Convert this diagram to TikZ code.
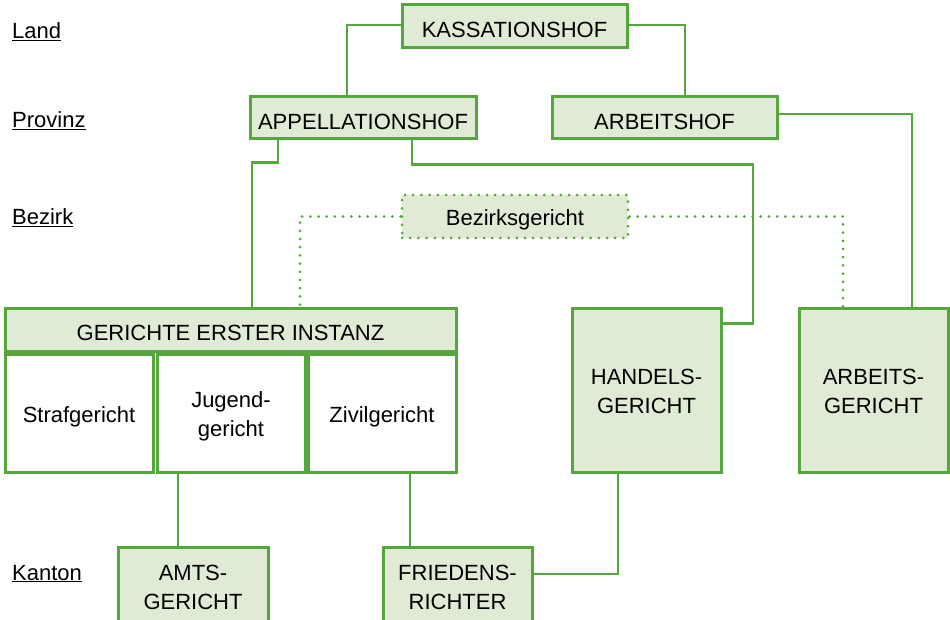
\documentclass[tikz,border=0pt]{standalone}
\usepackage{fontspec}
\setmainfont{Liberation Sans}
\definecolor{gstroke}{HTML}{54A73A}
\definecolor{gfill}{HTML}{E0EBD6}
\newcommand\dn[1]{\raisebox{-3.5pt}[\height][\depth]{#1}}
\newcommand\dnn[2]{\raisebox{-3.5pt}[\height][\depth]{\begin{tabular}{@{}c@{}}#1\\#2\end{tabular}}}
\begin{document}
\begin{tikzpicture}[x=1pt,y=-1pt,
  font=\fontsize{22}{29}\selectfont,
  box/.style={draw=gstroke, fill=gfill, line width=3pt, inner sep=0pt, align=center},
  wbox/.style={box, fill=white},
  dbox/.style={box, line width=3pt, dash pattern=on 0pt off 8.2pt, line cap=round},
  conn/.style={draw=gstroke, line width=2.2pt},
  dconn/.style={draw=gstroke, line width=3pt, dash pattern=on 0pt off 8.2pt, line cap=round},
  lvl/.style={anchor=base west, inner sep=0pt}]
\useasboundingbox (0,0) rectangle (950,620);
\begin{scope}
\clip (0,0) rectangle (950,620);
% level labels
\node[lvl] (land) at (12,39) {\underline{Land}};
\node[lvl] (prov) at (12,128) {\underline{Provinz}};
\node[lvl] (bezl) at (12,225) {\underline{Bezirk}};
\node[lvl] (kant) at (12,580) {\underline{Kanton}};
% boxes
\node[box, minimum width=225pt, minimum height=43pt] (kass) at (514.5,26.5) {\dn{KASSATIONSHOF}};
\node[box, minimum width=226pt, minimum height=42pt] (app) at (363,118) {\dn{APPELLATIONSHOF}};
\node[box, minimum width=225pt, minimum height=42pt] (arbhof) at (664.5,118) {\dn{ARBEITSHOF}};
\node[dbox, minimum width=226pt, minimum height=43pt] (bez) at (515,216.5) {\dn{Bezirksgericht}};
\node[box, minimum width=451pt, minimum height=43pt] (gei) at (230.5,329.5) {\dn{GERICHTE ERSTER INSTANZ}};
\node[wbox, minimum width=148pt, minimum height=118pt] (straf) at (79,413) {\dn{Strafgericht}};
\node[wbox, minimum width=148pt, minimum height=118pt] (jug) at (231,413) {\dnn{Jugend-}{gericht}};
\node[wbox, minimum width=148pt, minimum height=118pt] (ziv) at (382,413) {\dn{Zivilgericht}};
\node[box, minimum width=149pt, minimum height=164pt] (hand) at (646.5,390) {\dnn{HANDELS-}{GERICHT}};
\node[box, minimum width=149pt, minimum height=164pt] (arbg) at (873.5,390) {\dnn{ARBEITS-}{GERICHT}};
\node[box, minimum width=150pt, minimum height=78pt] (amts) at (193,586) {\dnn{AMTS-}{GERICHT}};
\node[box, minimum width=149pt, minimum height=78pt] (fried) at (457.5,586) {\dnn{FRIEDENS-}{RICHTER}};
% connectors
\draw[conn] ([yshift=1.5pt]kass.west) -| ([xshift=-16pt]app.north);
\draw[conn] ([yshift=1.5pt]kass.east) -| ([xshift=20.5pt]arbhof.north);
\draw[conn] ([xshift=-85pt]app.south) -- ++(0,22) -| ([xshift=21.5pt]gei.north);
\draw[conn] ([xshift=49pt]app.south) -- ++(0,24) -- ++(341,0) |- ([yshift=-17pt]hand.north east);
\draw[conn] ([yshift=4pt]arbhof.east) -| ([xshift=38.5pt]arbg.north);
\draw[dconn] (bez.west) -| ([xshift=69.5pt]gei.north);
\draw[dconn] (bez.east) -| ([xshift=-30.5pt]arbg.north);
\draw[conn] ([xshift=-53pt]jug.south) -- ([xshift=-15pt]amts.north);
\draw[conn] ([xshift=28pt]ziv.south) -- ([xshift=-47.5pt]fried.north);
\draw[conn] ([xshift=-28.5pt]hand.south) |- ([yshift=12pt]fried.east);
\end{scope}
\end{tikzpicture}
\end{document}
